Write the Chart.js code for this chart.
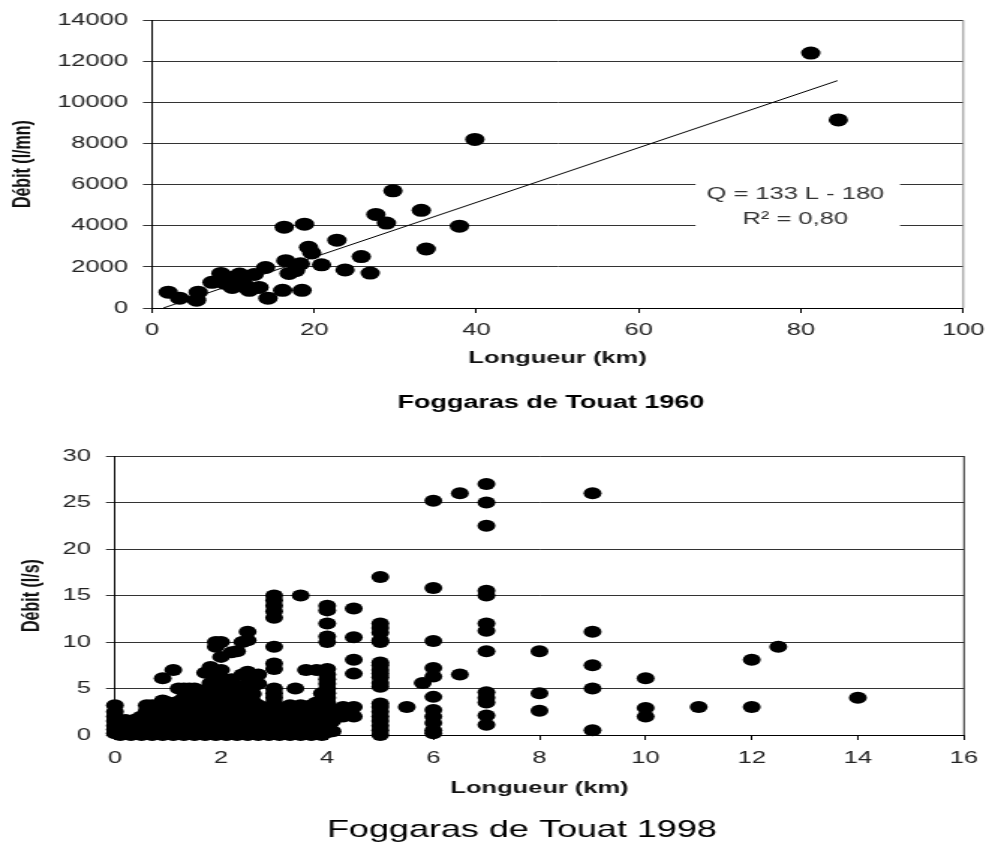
<!DOCTYPE html>
<html lang="fr">
<head>
<meta charset="utf-8">
<title>Foggaras de Touat</title>
<script src="https://cdn.jsdelivr.net/npm/chart.js@4.4.1/dist/chart.umd.min.js"></script>
<style>
  html, body { margin: 0; padding: 0; background: #fff; }
  body { width: 995px; height: 845px; position: relative; overflow: hidden; }
  /* the source picture is stretched sideways, so the canvases are too */
  .panel { position: absolute; left: 0; width: 664px; transform: scaleX(1.4985); transform-origin: 0 0; }
  #p1960 { top: 0; height: 430px; }
  #p1998 { top: 430px; height: 415px; }
</style>
</head>
<body>
<div class="panel" id="p1960"><canvas id="chart1960" width="664" height="430"></canvas></div>
<div class="panel" id="p1998"><canvas id="chart1998" width="664" height="415"></canvas></div>
<script>
// Foggaras du Touat : débit en fonction de la longueur (1960 et 1998)

// ---- 1960 (l/mn) ----
const longueur1960 = [2.0, 3.4, 5.5, 5.7, 7.4, 8.5, 9.0, 9.3, 9.9, 10.0, 10.5, 10.8, 11.3, 11.6, 12.0,
    12.6, 13.2, 14.0, 14.3, 16.1, 16.3, 16.5, 16.9, 17.7, 18.3, 18.5, 18.8, 19.3, 19.7, 20.9,
    22.8, 23.8, 25.8, 26.9, 27.6, 28.9, 29.7, 33.2, 33.8, 37.9, 39.8, 81.2, 84.6];
const debit1960 = [770, 480, 380, 770, 1250, 1680, 1200, 1350, 1000, 1500, 1350, 1650, 1200, 1000, 860,
    1630, 1000, 1970, 480, 860, 3930, 2300, 1680, 1820, 2150, 860, 4080, 2950, 2680, 2100,
    3300, 1850, 2500, 1700, 4550, 4130, 5700, 4750, 2870, 3980, 8200, 12400, 9150];
const trendX1960 = [1.4, 84.5];
const trendY1960 = [0, 11060];
const equation1960 = ["Q = 133 L - 180", "R² = 0,80"];
const xTicks1960 = [0, 20, 40, 60, 80, 100];
const yTicks1960 = [0, 2000, 4000, 6000, 8000, 10000, 12000, 14000];

// ---- 1998 (l/s) ---- one line per length
const longueur1998 = [
    0, 0, 0, 0, 0, 0, 0,
    0.1, 0.1, 0.1,
    0.2, 0.2, 0.2,
    0.3, 0.3, 0.3,
    0.4, 0.4, 0.4,
    0.5, 0.5, 0.5, 0.5,
    0.6, 0.6, 0.6, 0.6, 0.6,
    0.7, 0.7, 0.7, 0.7, 0.7,
    0.8, 0.8, 0.8, 0.8, 0.8,
    0.9, 0.9, 0.9, 0.9, 0.9, 0.9, 0.9,
    1.0, 1.0, 1.0, 1.0, 1.0,
    1.1, 1.1, 1.1, 1.1, 1.1, 1.1,
    1.2, 1.2, 1.2, 1.2, 1.2, 1.2,
    1.3, 1.3, 1.3, 1.3, 1.3, 1.3, 1.3,
    1.4, 1.4, 1.4, 1.4, 1.4, 1.4, 1.4,
    1.5, 1.5, 1.5, 1.5, 1.5, 1.5, 1.5,
    1.6, 1.6, 1.6, 1.6, 1.6, 1.6,
    1.7, 1.7, 1.7, 1.7, 1.7, 1.7, 1.7, 1.7,
    1.8, 1.8, 1.8, 1.8, 1.8, 1.8, 1.8, 1.8,
    1.9, 1.9, 1.9, 1.9, 1.9, 1.9, 1.9, 1.9, 1.9,
    2.0, 2.0, 2.0, 2.0, 2.0, 2.0, 2.0, 2.0, 2.0, 2.0, 2.0,
    2.1, 2.1, 2.1, 2.1, 2.1, 2.1, 2.1, 2.1,
    2.2, 2.2, 2.2, 2.2, 2.2, 2.2, 2.2, 2.2,
    2.3, 2.3, 2.3, 2.3, 2.3, 2.3, 2.3, 2.3,
    2.4, 2.4, 2.4, 2.4, 2.4, 2.4, 2.4, 2.4,
    2.5, 2.5, 2.5, 2.5, 2.5, 2.5, 2.5, 2.5, 2.5, 2.5, 2.5, 2.5,
    2.6, 2.6, 2.6, 2.6, 2.6, 2.6, 2.6,
    2.7, 2.7, 2.7, 2.7, 2.7, 2.7, 2.7,
    2.8, 2.8, 2.8, 2.8,
    2.9, 2.9, 2.9,
    3.0, 3.0, 3.0, 3.0, 3.0, 3.0, 3.0, 3.0, 3.0, 3.0, 3.0, 3.0, 3.0, 3.0, 3.0, 3.0, 3.0, 3.0, 3.0,
    3.1, 3.1, 3.1, 3.1,
    3.2, 3.2, 3.2, 3.2,
    3.3, 3.3, 3.3, 3.3, 3.3,
    3.4, 3.4, 3.4, 3.4, 3.4,
    3.5, 3.5, 3.5, 3.5, 3.5, 3.5,
    3.6, 3.6, 3.6, 3.6, 3.6,
    3.7, 3.7, 3.7, 3.7, 3.7,
    3.8, 3.8, 3.8, 3.8, 3.8, 3.8,
    3.9, 3.9, 3.9, 3.9, 3.9, 3.9,
    4.0, 4.0, 4.0, 4.0, 4.0, 4.0, 4.0, 4.0, 4.0, 4.0, 4.0, 4.0, 4.0, 4.0, 4.0, 4.0, 4.0, 4.0, 4.0,
    4.1, 4.1, 4.1,
    4.3, 4.3,
    4.5, 4.5, 4.5, 4.5, 4.5, 4.5,
    5.0, 5.0, 5.0, 5.0, 5.0, 5.0, 5.0, 5.0, 5.0, 5.0, 5.0, 5.0, 5.0, 5.0, 5.0, 5.0, 5.0, 5.0, 5.0, 5.0, 5.0,
    5.5,
    5.8,
    6.0, 6.0, 6.0, 6.0, 6.0, 6.0, 6.0, 6.0, 6.0, 6.0, 6.0,
    6.5, 6.5,
    7.0, 7.0, 7.0, 7.0, 7.0, 7.0, 7.0, 7.0, 7.0, 7.0, 7.0, 7.0, 7.0,
    8.0, 8.0, 8.0,
    9.0, 9.0, 9.0, 9.0, 9.0,
    10.0, 10.0, 10.0,
    11.0,
    12.0, 12.0,
    12.5,
    14.0
];
const debit1998 = [
    0.2, 0.6, 1.0, 1.5, 2.0, 2.5, 3.2,
    0.0, 0.7, 1.4,
    0.3, 1.0, 1.6,
    0.0, 0.7, 1.4,
    0.3, 1.0, 1.7,
    0.0, 0.7, 1.4, 2.0,
    0.4, 1.1, 1.8, 2.6, 3.2,
    0.0, 0.8, 1.6, 2.4, 3.2,
    0.4, 1.2, 2.0, 2.8, 3.2,
    0.0, 0.8, 1.6, 2.4, 3.2, 3.7, 6.1,
    0.4, 1.2, 2.0, 2.8, 3.5,
    0.0, 0.8, 1.6, 2.4, 3.2, 7.0,
    0.4, 1.2, 2.0, 2.8, 3.6, 5.0,
    0.0, 0.8, 1.6, 2.4, 3.2, 4.0, 5.0,
    0.4, 1.2, 2.0, 2.8, 3.6, 4.4, 5.0,
    0.0, 0.8, 1.6, 2.4, 3.2, 4.0, 5.0,
    0.4, 1.2, 2.0, 2.8, 3.6, 4.4,
    0.0, 0.8, 1.6, 2.4, 3.2, 4.0, 4.8, 6.7,
    0.4, 1.2, 2.0, 2.8, 3.6, 4.4, 5.6, 7.3,
    0.0, 0.8, 1.6, 2.4, 3.2, 4.0, 6.2, 9.5, 10.0,
    0.4, 1.2, 2.0, 2.8, 3.6, 4.4, 5.2, 6.1, 7.0, 8.4, 10.0,
    0.0, 0.8, 1.6, 2.4, 3.2, 4.0, 5.0, 5.9,
    0.4, 1.2, 2.0, 2.8, 3.6, 4.4, 6.0, 8.9,
    0.0, 0.8, 1.6, 2.4, 3.2, 4.0, 5.2, 9.0,
    0.4, 1.2, 2.0, 2.8, 3.6, 4.5, 6.5, 10.0,
    0.0, 0.8, 1.6, 2.4, 3.2, 4.0, 4.8, 5.5, 6.2, 6.8, 10.2, 11.1,
    0.4, 1.2, 2.0, 2.8, 3.6, 4.4, 5.2,
    0.0, 0.8, 1.6, 2.4, 3.2, 5.5, 6.5,
    0.4, 1.2, 2.0, 2.8,
    0.0, 0.8, 1.6,
    0.2, 0.6, 1.0, 1.5, 2.0, 2.5, 3.0, 3.5, 4.0, 4.5, 5.0, 7.1, 7.7, 9.5, 12.6, 13.3, 13.9, 14.5, 15.0,
    0.0, 0.8, 1.6, 2.4,
    0.4, 1.2, 2.0, 2.8,
    0.0, 0.8, 1.6, 2.4, 3.2,
    0.4, 1.2, 2.0, 2.8, 5.0,
    0.0, 0.8, 1.6, 2.4, 3.2, 15.0,
    0.4, 1.2, 2.0, 2.8, 7.0,
    0.0, 0.8, 1.6, 2.4, 3.2,
    0.4, 1.2, 2.0, 2.8, 3.5, 7.0,
    0.0, 0.8, 1.6, 2.4, 3.2, 4.5,
    0.3, 1.0, 1.5, 2.0, 2.5, 3.0, 3.5, 4.0, 4.5, 5.0, 5.5, 6.0, 6.5, 7.1, 10.0, 10.6, 12.0, 13.4, 13.9,
    0.4, 1.5, 2.5,
    2.0, 3.0,
    2.0, 3.0, 6.6, 8.1, 10.5, 13.6,
    0.0, 0.5, 1.0, 1.5, 2.0, 2.5, 3.0, 3.4, 5.2, 5.6, 6.2, 6.6, 7.0, 7.5, 7.8, 10.0, 10.2, 11.0, 11.5, 12.0, 17.0,
    3.0,
    5.6,
    0.2, 0.5, 1.3, 2.0, 2.7, 4.1, 6.3, 7.2, 10.1, 15.8, 25.2,
    6.5, 26.0,
    1.1, 2.1, 3.5, 4.0, 4.6, 9.0, 11.2, 12.0, 15.0, 15.5, 22.5, 25.0, 27.0,
    2.6, 4.5, 9.0,
    0.5, 5.0, 7.5, 11.1, 26.0,
    2.0, 2.9, 6.1,
    3.0,
    3.0, 8.1,
    9.5,
    4.0
];
const xTicks1998 = [0, 2, 4, 6, 8, 10, 12, 14, 16];
const yTicks1998 = [0, 5, 10, 15, 20, 25, 30];

const FONT = "'Liberation Sans', Arial, sans-serif";
Chart.defaults.font.family = FONT;
Chart.defaults.color = "#222";
Chart.defaults.animation = false;

function toPoints(xs, ys) {
    return xs.map((x, i) => ({ x: x, y: ys[i] }));
}

function fixedTicks(values) {
    return function (scale) {
        scale.ticks = values.map(v => ({ value: v }));
    };
}

// right edge of the plot and the caption under each chart
const framePlugin = {
    id: "frame",
    afterDraw(chart, args, opts) {
        const a = chart.chartArea;
        const ctx = chart.ctx;
        ctx.save();
        ctx.strokeStyle = opts.rightColor;
        ctx.lineWidth = 1;
        ctx.beginPath();
        ctx.moveTo(a.right, a.top);
        ctx.lineTo(a.right, a.bottom);
        ctx.stroke();
        ctx.fillStyle = "#000";
        ctx.font = opts.captionFont;
        ctx.textAlign = "center";
        ctx.textBaseline = "middle";
        ctx.fillText(opts.caption, opts.captionX, opts.captionY);
        ctx.restore();
    }
};

// regression equation box of the 1960 chart
const equationPlugin = {
    id: "equation",
    afterDatasetsDraw(chart) {
        const sx = chart.scales.x;
        const sy = chart.scales.y;
        const ctx = chart.ctx;
        const left = sx.getPixelForValue(67);
        const right = sx.getPixelForValue(92.2);
        const top = sy.getPixelForValue(6280);
        const bottom = sy.getPixelForValue(3640);
        ctx.save();
        ctx.fillStyle = "#fff";
        ctx.fillRect(left, top, right - left, bottom - top);
        ctx.fillStyle = "#333";
        ctx.font = "17px " + FONT;
        ctx.textAlign = "center";
        ctx.textBaseline = "middle";
        ctx.fillText(equation1960[0], sx.getPixelForValue(79.3), sy.getPixelForValue(5510));
        ctx.fillText(equation1960[1], sx.getPixelForValue(79.3), sy.getPixelForValue(4320));
        ctx.restore();
    }
};

function makeScales(o) {
    return {
        x: {
            type: "linear",
            min: o.xTicks[0],
            max: o.xTicks[o.xTicks.length - 1],
            afterBuildTicks: fixedTicks(o.xTicks),
            afterFit: s => { s.height = o.xHeight; },
            grid: { drawOnChartArea: false, drawTicks: true, tickLength: 5, color: "#000" },
            border: { color: "#000", width: 1 },
            ticks: { padding: o.xTickPad, autoSkip: false, maxRotation: 0, font: { size: 17 }, color: "#222",
                     callback: v => String(v) },
            title: { display: true, text: "Longueur (km)", color: "#111",
                     font: { size: 17, weight: "bold" }, padding: { top: 0, bottom: o.xTitlePad } }
        },
        y: {
            type: "linear",
            min: o.yTicks[0],
            max: o.yTicks[o.yTicks.length - 1],
            afterBuildTicks: fixedTicks(o.yTicks),
            afterFit: s => { s.width = o.yWidth; },
            grid: { color: "#333", lineWidth: 1, drawTicks: true, tickLength: 6 },
            border: { color: "#000", width: 1 },
            ticks: { padding: 10, autoSkip: false, font: { size: 17 }, color: "#222",
                     callback: v => String(v) },
            title: { display: true, text: o.yTitle, color: "#111",
                     font: { size: 16, weight: "bold" }, padding: { top: o.yTitlePad, bottom: 0 } }
        }
    };
}

new Chart(document.getElementById("chart1960"), {
    type: "scatter",
    data: {
        datasets: [
            {
                label: "Foggaras 1960",
                data: toPoints(longueur1960, debit1960),
                backgroundColor: "#000",
                borderWidth: 0,
                pointRadius: 6.5,
                clip: false
            },
            {
                label: "Tendance",
                data: toPoints(trendX1960, trendY1960),
                showLine: true,
                borderColor: "#000",
                borderWidth: 1,
                pointRadius: 0
            }
        ]
    },
    options: {
        responsive: false,
        layout: { padding: { top: 16, right: 17.3, left: 0, bottom: 52 } },
        scales: makeScales({
            xTicks: xTicks1960, yTicks: yTicks1960, xHeight: 70, yWidth: 101.4,
            xTickPad: 7, xTitlePad: 9.8, yTitle: "Débit (l/mn)", yTitlePad: 5.7
        }),
        plugins: {
            legend: { display: false },
            tooltip: { enabled: false },
            frame: { rightColor: "#888", caption: "Foggaras de Touat 1960",
                     captionFont: "bold 18px " + FONT, captionX: 367.7, captionY: 403 }
        }
    },
    plugins: [framePlugin, equationPlugin]
});

new Chart(document.getElementById("chart1998"), {
    type: "scatter",
    data: {
        datasets: [
            {
                label: "Foggaras 1998",
                data: toPoints(longueur1998, debit1998),
                backgroundColor: "#000",
                borderWidth: 0,
                pointRadius: 6,
                clip: false
            }
        ]
    },
    options: {
        responsive: false,
        layout: { padding: { top: 26, right: 20.7, left: 0, bottom: 40 } },
        scales: makeScales({
            xTicks: xTicks1998, yTicks: yTicks1998, xHeight: 70, yWidth: 76.7,
            xTickPad: 8, xTitlePad: 6.8, yTitle: "Débit (l/s)", yTitlePad: 12.4
        }),
        plugins: {
            legend: { display: false },
            tooltip: { enabled: false },
            frame: { rightColor: "#222", caption: "Foggaras de Touat 1998",
                     captionFont: "24px " + FONT, captionX: 348.3, captionY: 400 }
        }
    },
    plugins: [framePlugin]
});
</script>
</body>
</html>
